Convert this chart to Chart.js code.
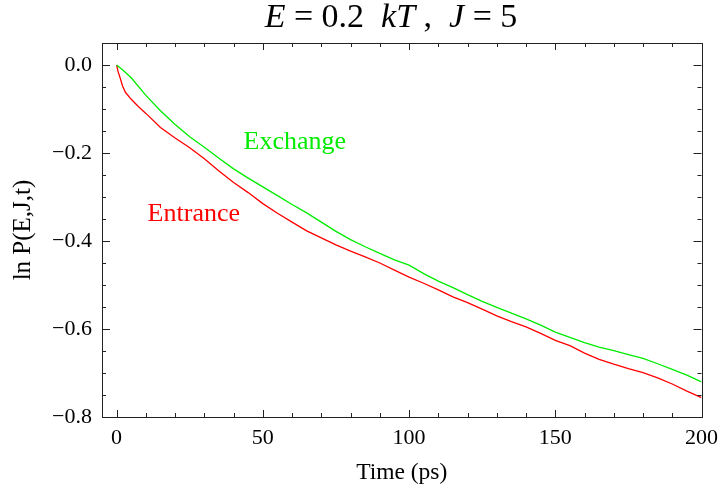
<!DOCTYPE html>
<html>
<head>
<meta charset="utf-8">
<script src="https://cdn.jsdelivr.net/npm/chart.js@4.4.0/dist/chart.umd.min.js"></script>
<style>
body { margin: 0; background: #fff; }
#wrap { position: relative; width: 726px; height: 492px; }
#title { position: absolute; left: 0; top: -3px; width: 782px; text-align: center; white-space: nowrap;
         font-family: "Liberation Serif", serif; font-size: 34px; color: #000; }
</style>
</head>
<body>
<div id="wrap">
  <canvas id="chart" width="726" height="492"></canvas>
  <div id="title"><i>E</i> = 0.2&nbsp; <i>kT</i> ,&nbsp; <i>J</i> = 5</div>
</div>
<script>
// ln P(E,J,t)
var exchangeTime = [0,2,5,10,15,20,25,30,35,40,45,50,55,60,65,70,75,80,85,90,95,100,105,110,115,120,125,130,135,140,145,150,155,160,165,170,175,180,185,190,195,200];
var exchangeLnP = [0,-0.011,-0.029,-0.069,-0.104,-0.135,-0.163,-0.187,-0.212,-0.236,-0.257,-0.277,-0.297,-0.317,-0.336,-0.357,-0.378,-0.397,-0.413,-0.428,-0.443,-0.455,-0.474,-0.491,-0.506,-0.522,-0.537,-0.551,-0.564,-0.577,-0.591,-0.607,-0.619,-0.631,-0.641,-0.649,-0.658,-0.667,-0.679,-0.692,-0.705,-0.720];

var entranceTime = [0,0.5,1,2,3,5,7.5,10,15,20,25,30,35,40,45,50,55,60,65,70,75,80,85,90,95,100,105,110,115,120,125,130,135,140,145,150,155,160,165,170,175,180,185,190,195,200];
var entranceLnP = [0,-0.015,-0.025,-0.047,-0.062,-0.078,-0.095,-0.110,-0.142,-0.166,-0.188,-0.213,-0.241,-0.267,-0.290,-0.315,-0.337,-0.357,-0.377,-0.393,-0.409,-0.423,-0.436,-0.450,-0.466,-0.482,-0.496,-0.511,-0.527,-0.540,-0.555,-0.570,-0.583,-0.595,-0.610,-0.626,-0.638,-0.655,-0.669,-0.680,-0.690,-0.699,-0.711,-0.725,-0.741,-0.756];

var xTicks = [0,50,100,150,200];
var xMinor = [0,10,20,30,40,50,60,70,80,90,100,110,120,130,140,150,160,170,180,190,200];
var yTicks = [-0.8,-0.6,-0.4,-0.2,0];
var yMinor = [-0.8,-0.75,-0.7,-0.65,-0.6,-0.55,-0.5,-0.45,-0.4,-0.35,-0.3,-0.25,-0.2,-0.15,-0.1,-0.05,0];

// in-plot labels: text, x (ps), y (ln P)
var curveLabels = [
  { text: 'Exchange', x: 43.4, y: -0.191, color: 'rgb(0,235,0)' },
  { text: 'Entrance', x: 10.6, y: -0.355, color: 'rgb(255,0,0)' }
];

var serif = '"Liberation Serif", "Times New Roman", serif';

function pts(xs, ys) {
  var out = [];
  for (let i = 0; i < xs.length; i++) out.push({ x: xs[i], y: ys[i] });
  return out;
}

var frameTicks = {
  id: 'frameTicks',
  afterDraw: function(chart) {
    var c = chart.ctx, a = chart.chartArea;
    var xs = chart.scales.x, ys = chart.scales.y;
    c.save();
    c.strokeStyle = '#222';
    c.lineWidth = 1;
    c.strokeRect(Math.round(a.left) + 0.5, Math.round(a.top) + 0.5, Math.round(a.right - a.left), Math.round(a.bottom - a.top));
    c.beginPath();
    xMinor.forEach(function(v) {
      var len = xTicks.indexOf(v) >= 0 ? 7 : 4;
      var px = Math.round(xs.getPixelForValue(v)) + 0.5;
      c.moveTo(px, a.bottom); c.lineTo(px, a.bottom - len);
      c.moveTo(px, a.top); c.lineTo(px, a.top + len);
    });
    yMinor.forEach(function(v) {
      var len = yTicks.some(function(t){ return Math.abs(t - v) < 1e-9; }) ? 8 : 4;
      var py = Math.round(ys.getPixelForValue(v)) + 0.5;
      c.moveTo(a.left, py); c.lineTo(a.left + len, py);
      c.moveTo(a.right, py); c.lineTo(a.right - len, py);
    });
    c.stroke();
    c.font = '26px ' + serif;
    c.textAlign = 'left';
    c.textBaseline = 'alphabetic';
    curveLabels.forEach(function(l) {
      c.fillStyle = l.color;
      c.fillText(l.text, xs.getPixelForValue(l.x), ys.getPixelForValue(l.y));
    });
    c.restore();
  }
};

var ctx = document.getElementById('chart');
var chart = new Chart(ctx, {
  type: 'line',
  data: {
    datasets: [
      { label: 'Exchange', data: pts(exchangeTime, exchangeLnP), borderColor: 'rgb(0,235,0)', borderWidth: 1.3, pointRadius: 0, fill: false, tension: 0 },
      { label: 'Entrance', data: pts(entranceTime, entranceLnP), borderColor: 'rgb(255,0,0)', borderWidth: 1.3, pointRadius: 0, fill: false, tension: 0 }
    ]
  },
  options: {
    responsive: false,
    animation: false,
    devicePixelRatio: 1,
    layout: { padding: { top: 43, right: 19, left: 0, bottom: 0 } },
    plugins: { legend: { display: false }, tooltip: { enabled: false }, title: { display: false } },
    scales: {
      x: {
        type: 'linear', min: -5, max: 200,
        afterBuildTicks: function(s) { s.ticks = xTicks.map(function(v){ return { value: v }; }); },
        afterFit: function(s) { s.height = 75; },
        grid: { display: false, drawTicks: false },
        border: { display: false },
        ticks: { font: { family: serif, size: 22 }, color: '#000', padding: 8, maxRotation: 0, autoSkip: false },
        title: { display: true, text: 'Time (ps)', font: { family: serif, size: 23.5 }, color: '#000', padding: { top: 0, bottom: 5 } }
      },
      y: {
        min: -0.8, max: 0.05,
        afterBuildTicks: function(s) { s.ticks = yTicks.map(function(v){ return { value: v }; }); },
        afterFit: function(s) { s.width = 102; },
        grid: { display: false, drawTicks: false },
        border: { display: false },
        ticks: {
          font: { family: serif, size: 22 }, color: '#000', padding: 10, autoSkip: false,
          callback: function(v) { return Number(v).toFixed(1).replace('-', '\u2212'); }
        },
        title: { display: true, text: 'ln P(E,J,t)', font: { family: serif, size: 25 }, color: '#000', padding: { top: 8, bottom: 4 } }
      }
    }
  },
  plugins: [frameTicks]
});
</script>
</body>
</html>
